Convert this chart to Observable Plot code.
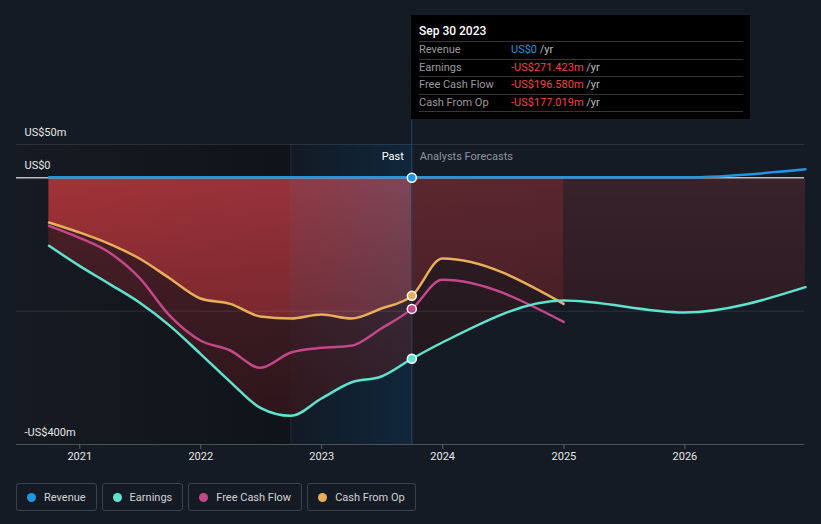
<!DOCTYPE html>
<html><head><meta charset="utf-8">
<script src="https://cdn.jsdelivr.net/npm/d3@7"></script>
<script src="https://cdn.jsdelivr.net/npm/@observablehq/plot@0.6"></script>
<style>
html,body{margin:0;padding:0;background:#151b25;width:821px;height:524px;overflow:hidden;font-family:Roboto,"Noto Sans",sans-serif;}
#wrap{position:relative;width:821px;height:524px;}
#chart{position:absolute;left:0;top:0;}
#tip{position:absolute;left:411px;top:15px;width:339px;height:104px;background:#000;color:#fff;font-size:11px;}
#tip .title{position:absolute;left:8px;top:9px;font-size:12px;font-weight:500;color:#fff;}
#tip .row{position:absolute;left:8px;width:324px;height:17px;border-top:1px solid #363636;line-height:15px;}
#tip .lab{position:absolute;left:0;color:#9a9a9a;}
#tip .val{position:absolute;left:92px;color:#bdbdbd;}
#tip .end{position:absolute;left:8px;width:324px;top:96px;border-top:1px solid #363636;}
#legend{position:absolute;left:16px;top:483px;display:flex;gap:5px;}
#legend .item{box-sizing:border-box;height:28px;border:1px solid #3b414d;border-radius:3px;padding:0 10px 0 10px;display:flex;align-items:center;font-size:11px;color:#d2d2d2;}
#legend .dot{width:9px;height:9px;border-radius:50%;margin-right:8px;}
</style></head>
<body><div id="wrap"><div id="chart"></div><div id="tip"></div><div id="legend"></div></div>
<script>
// ---- data (US$ millions) ----
const pastDates = ["2020-09-30","2020-12-31","2021-03-31","2021-06-30","2021-09-30","2021-12-31","2022-03-31","2022-06-30","2022-09-30","2022-12-31","2023-03-31","2023-06-30","2023-09-30"];
const forecastDates = ["2023-12-31","2024-12-31","2025-12-31","2026-12-31"];
const revenuePast = [0,0,0,0,0,0,0,0,0,0,0,0,0];
const revenueForecast = [0,0,0,12];
const earningsPast = [-102,-132,-159,-187,-222,-264,-306,-345,-357,-331,-307,-298,-271.423];
const earningsForecast = [-247,-184,-202,-164];
const fcfPast = [-72,-90,-112,-150,-207,-244,-259,-285,-262,-255,-252,-226,-196.58];
const fcfForecast = [-153,-216];
const cfoPast = [-67,-82,-99,-121,-151,-181,-189,-208,-211,-205,-211,-196,-177.019];
const cfoForecast = [-121,-189];
const seriesNames = ["Revenue","Earnings","Free Cash Flow","Cash From Op"];
const seriesColors = ["#2394df","#5fe3cf","#c4478a","#e8ae5a"];
const tooltipDate = "Sep 30 2023";
const tooltipValues = ["US$0","-US$271.423m","-US$196.580m","-US$177.019m"];
const yTickValues = [50, 0, -400];
const yTickLabels = ["US$50m","US$0","-US$400m"];
const gridValues = [50, -200];
const xTickYears = [2021,2022,2023,2024,2025,2026];
const xDomainDates = ["2020-06-24","2026-12-28"];

// ---- build rows ----
const parse = s => new Date(s + "T00:00:00Z");
function rows(pastVals, fcVals) {
  const r = pastVals.map((v,i) => ({date: parse(pastDates[i]), value: v}));
  fcVals.forEach((v,i) => r.push({date: parse(forecastDates[i]), value: v}));
  return r;
}
const revRows = rows(revenuePast, revenueForecast);
const earnRows = rows(earningsPast, earningsForecast);
const fcfRows = rows(fcfPast, fcfForecast);
const cfoRows = rows(cfoPast, cfoForecast);
const pastEnd = parse(pastDates[pastDates.length-1]);
const hlStart = parse(pastDates[pastDates.length-5]);
const fcEnd1 = parse(forecastDates[1]);
const xDomain = xDomainDates.map(parse);
const lastPts = [revRows, earnRows, fcfRows, cfoRows].map((r,i) => ({...r[pastDates.length-1], c: seriesColors[i]}));

const W = 821, H = 475, mL = 16, mR = 17, mT = 144, mB = 31;
const curve = "monotone-x";

const plot = Plot.plot({
  width: W, height: H,
  marginLeft: mL, marginRight: mR, marginTop: mT, marginBottom: mB,
  style: {background: "transparent", fontFamily: "Roboto, 'Noto Sans', sans-serif", fontSize: "11px", color: "#e6e6e6"},
  x: {type: "utc", domain: xDomain, label: null},
  y: {domain: [-400, 50], axis: null},
  color: {type: "identity"},
  marks: [
    Plot.rect([0], {x1: () => xDomain[0], x2: () => hlStart, y1: -400, y2: 50, fill: "url(#gPastBg)"}),
    Plot.rect([0], {x1: () => hlStart, x2: () => pastEnd, y1: -400, y2: 50, fill: "url(#gHl)"}),
    Plot.ruleX([hlStart], {y1: -400, y2: 50, stroke: "#1e2a37"}),
    Plot.areaY(earnRows, {x: "date", y1: 0, y2: "value", curve, fill: "url(#gEarn)"}),
    Plot.areaY(cfoRows, {x: "date", y1: 0, y2: "value", curve, fill: "url(#gCfo)"}),
    Plot.areaY(earnRows, {x: "date", y1: 0, y2: "value", curve, fill: "url(#gFade)"}),
    Plot.ruleY(gridValues, {stroke: "#ffffff", strokeOpacity: 0.1}),
    Plot.ruleX([pastEnd], {y1: 87, y2: -400, stroke: "#2c4660"}),
    Plot.ruleY([-400], {stroke: "#4b515b", strokeWidth: 1.2}),
    Plot.axisX({ticks: xTickYears.map(y => new Date(Date.UTC(y,0,1))), tickFormat: "%Y", tickSize: 5, tickPadding: 3, stroke: "#5b616b", fill: "#e6e6e6", fontSize: 11, label: null}),
    Plot.ruleY([0], {stroke: "#bdbdbd", strokeWidth: 1.5}),
    Plot.lineY(cfoRows, {x: "date", y: "value", curve, stroke: seriesColors[3], strokeWidth: 2.5}),
    Plot.lineY(fcfRows, {x: "date", y: "value", curve, stroke: seriesColors[2], strokeWidth: 2.5}),
    Plot.lineY(earnRows, {x: "date", y: "value", curve, stroke: seriesColors[1], strokeWidth: 2.5}),
    Plot.lineY(revRows, {x: "date", y: "value", curve, stroke: seriesColors[0], strokeWidth: 2.5, dy: -0.5}),
    Plot.dot(lastPts, {x: "date", y: "value", fill: "c", r: 4.5, stroke: "#ffffff", strokeWidth: 1.5}),
    Plot.text(yTickValues, {y: d => d, text: (d,i) => yTickLabels[i], frameAnchor: "left", dx: 8, dy: -12, textAnchor: "start", lineAnchor: "middle", fill: "#e6e6e6", fontSize: 11}),
    Plot.text(["Past"], {x: () => pastEnd, frameAnchor: "top", dx: -8, dy: 12, textAnchor: "end", lineAnchor: "middle", fill: "#ffffff", fontSize: 11}),
    Plot.text(["Analysts Forecasts"], {x: () => pastEnd, frameAnchor: "top", dx: 8, dy: 12, textAnchor: "start", lineAnchor: "middle", fill: "#8e949c", fontSize: 11})
  ]
});
document.getElementById("chart").appendChild(plot);

// ---- gradients ----
const xs = d3.scaleUtc(xDomain, [mL, W - mR]);
const NS = "http://www.w3.org/2000/svg";
const defs = document.createElementNS(NS, "defs");
function grad(id, attrs, stops) {
  const g = document.createElementNS(NS, "linearGradient");
  g.setAttribute("id", id);
  for (const k in attrs) g.setAttribute(k, attrs[k]);
  for (const [o, c, a] of stops) {
    const s = document.createElementNS(NS, "stop");
    s.setAttribute("offset", Math.max(0, Math.min(1, o)));
    s.setAttribute("stop-color", c);
    if (a !== undefined) s.setAttribute("stop-opacity", a);
    g.appendChild(s);
  }
  defs.appendChild(g);
}
const off = d => (xs(d) - mL) / (W - mR - mL);
const oS = off(hlStart), oE = off(pastEnd), oF = off(fcEnd1);
const hUser = {gradientUnits: "userSpaceOnUse", x1: mL, x2: W - mR, y1: 0, y2: 0};
grad("gPastBg", {x1: 0, x2: 1, y1: 0, y2: 0}, [[0, "#161b23"], [1, "#0f131a"]]);
grad("gHl", {x1: 0, x2: 1, y1: 0, y2: 0}, [[0, "#121a24"], [1, "#10263b"]]);
grad("gEarn", hUser, [[0, "#4e2029"], [oS, "#47212a"], [oS, "#48242f"], [oE, "#45313f"], [oE, "#301f27"], [oF, "#301f27"], [oF, "#38222b"], [1, "#38222b"]]);
grad("gCfo", hUser, [[0, "#a23338"], [oS, "#98323a"], [oS, "#903a45"], [oE, "#7d4658"], [oE, "#5c272f"], [1, "#54262d"]]);
grad("gFade", {x1: 0, x2: 0, y1: 0, y2: 1}, [[0, "#000000", 0], [1, "#000000", 0.35]]);
plot.insertBefore(defs, plot.firstChild);

// ---- tooltip ----
const tip = document.getElementById("tip");
tip.innerHTML = `<div class="title">${tooltipDate}</div>` +
  seriesNames.map((n,i) => {
    const col = i === 0 ? seriesColors[0] : "#f04545";
    return `<div class="row" style="top:${26 + i*17.5}px"><span class="lab">${n}</span><span class="val"><span style="color:${col}">${tooltipValues[i]}</span> /yr</span></div>`;
  }).join("") + `<div class="end"></div>`;

// ---- legend ----
document.getElementById("legend").innerHTML = seriesNames.map((n,i) =>
  `<div class="item"><span class="dot" style="background:${seriesColors[i]}"></span>${n}</div>`).join("");
</script></body></html>
